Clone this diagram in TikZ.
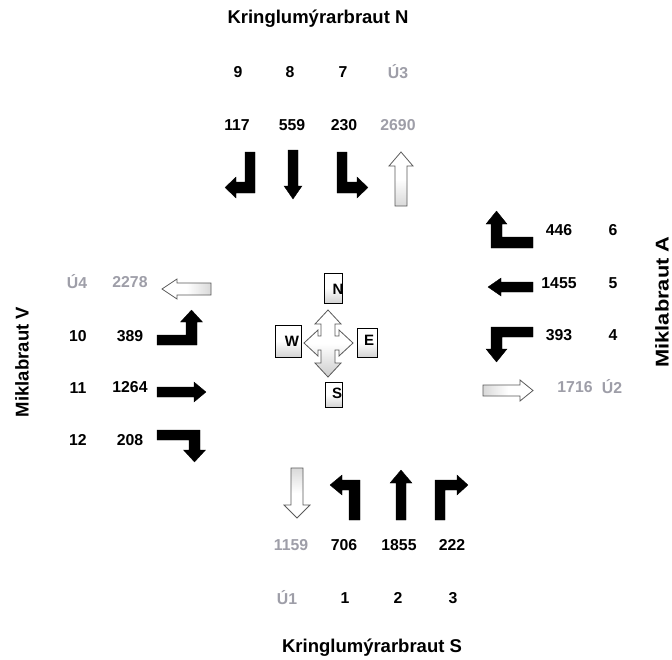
\documentclass[tikz,border=0pt]{standalone}
\usepackage{fontspec}
\setmainfont{Liberation Sans}
\definecolor{greytxt}{RGB}{158,158,168}
\definecolor{outl}{RGB}{90,90,90}
\tikzset{
  num/.style={font=\fontsize{15.8}{18}\bfseries\selectfont, inner sep=0pt},
  gnum/.style={num, text=greytxt},
  ttl/.style={font=\fontsize{18.5}{22}\bfseries\selectfont, inner sep=0pt},
  blk/.style={fill=black, draw=black, line width=0.3pt},
  hol/.style={draw=outl, line width=0.8pt},
  cbox/.style={draw=black, line width=0.7pt, top color=white, bottom color=gray!35, middle color=white},
  clet/.style={font=\fontsize{15}{18}\bfseries\selectfont, inner sep=0pt}
}
\begin{document}
\begin{tikzpicture}[x=1pt,y=-1pt]
\useasboundingbox (0,0) rectangle (672,659);
\fill[white] (0,0) rectangle (672,659);

% titles
\node[ttl] (tN) at (318,19) {Kringlumýrarbraut N};
\node[ttl] (tS) at (372,648) {Kringlumýrarbraut S};
\node[ttl, rotate=90] (tV) at (22,362) {Miklabraut V};
\node[ttl, rotate=90] (tA) at (662,302) {\scalebox{1.18}[1]{Miklabraut A}};

% top labels
\node[num] (n9) at (238,72) {9};
\node[num] (n8) at (290,72) {8};
\node[num] (n7) at (343,72) {7};
\node[gnum] (u3) at (398,72) {Ú3};
\node[num] (v117) at (237,125) {117};
\node[num] (v559) at (292,125) {559};
\node[num] (v230) at (344,125) {230};
\node[gnum] (v2690) at (398,125) {2690};

% top arrows
\filldraw[blk] (245,152) -- (255,152) -- (255,193) -- (236,193) -- (236,198) -- (225,187.5) -- (236,177) -- (236,182) -- (245,182) -- cycle;
\filldraw[blk] (288,150) -- (298,150) -- (298,186) -- (302,186) -- (293,199) -- (284,186) -- (288,186) -- cycle;
\filldraw[blk] (337,152) -- (347,152) -- (347,182) -- (357,182) -- (357,177) -- (368,187.5) -- (357,198) -- (357,193) -- (337,193) -- cycle;
\shade[hol, top color=white, bottom color=gray!30, middle color=white] (401,152) -- (413,166) -- (407,166) -- (407,206) -- (395,206) -- (395,166) -- (389,166) -- cycle;

% right labels
\node[num] (v446) at (559,230) {446};
\node[num] (n6) at (613,230) {6};
\node[num] (v1455) at (559,283) {1455};
\node[num] (n5) at (613,283) {5};
\node[num] (v393) at (559,335) {393};
\node[num] (n4) at (613,335) {4};
\node[gnum] (v1716) at (575,387) {1716};
\node[gnum] (u2) at (612,387) {Ú2};

% right arrows
\filldraw[blk] (533,237) -- (533,248) -- (491,248) -- (491,224) -- (486,224) -- (496.5,211) -- (507,224) -- (502,224) -- (502,237) -- cycle;
\filldraw[blk] (533,282) -- (533,292) -- (501,292) -- (501,296) -- (488,287) -- (501,278) -- (501,282) -- cycle;
\filldraw[blk] (533,327) -- (533,337) -- (502,337) -- (502,349) -- (507,349) -- (496.5,362) -- (486,349) -- (491,349) -- (491,327) -- cycle;
\shade[hol, left color=gray!30, right color=white, middle color=white] (483,385) -- (520,385) -- (520,380) -- (533,390.5) -- (520,401) -- (520,396) -- (483,396) -- cycle;

% left labels
\node[gnum] (u4) at (77,282) {Ú4};
\node[gnum] (v2278) at (130,282) {2278};
\node[num] (n10) at (78,336) {10};
\node[num] (v389) at (130,336) {389};
\node[num] (n11) at (78,388) {11};
\node[num] (v1264) at (130,387) {1264};
\node[num] (n12) at (78,440) {12};
\node[num] (v208) at (130,440) {208};

% left arrows
\shade[hol, left color=white, right color=gray!30, middle color=white] (211,283) -- (177,283) -- (177,279) -- (162,289) -- (177,299) -- (177,295) -- (211,295) -- cycle;
\filldraw[blk] (157,335) -- (186,335) -- (186,322) -- (180.5,322) -- (191.5,310) -- (202.5,322) -- (197,322) -- (197,345) -- (157,345) -- cycle;
\filldraw[blk] (157,387) -- (194,387) -- (194,382) -- (206,392) -- (194,402) -- (194,397) -- (157,397) -- cycle;
\filldraw[blk] (157,430) -- (200,430) -- (200,450) -- (205.5,450) -- (194.5,462) -- (183.5,450) -- (189,450) -- (189,440) -- (157,440) -- cycle;

% bottom labels
\node[gnum] (v1159) at (291,545) {1159};
\node[num] (v706) at (344,545) {706};
\node[num] (v1855) at (399,545) {1855};
\node[num] (v222) at (452,545) {222};
\node[gnum] (u1) at (287,598) {Ú1};
\node[num] (n1) at (345,598) {1};
\node[num] (n2) at (398,598) {2};
\node[num] (n3) at (453,598) {3};

% bottom arrows
\shade[hol, top color=gray!30, bottom color=white, middle color=white] (291,468) -- (303,468) -- (303,505) -- (310,505) -- (297,518) -- (284,505) -- (291,505) -- cycle;
\filldraw[blk] (360,520) -- (349,520) -- (349,490) -- (342,490) -- (342,495) -- (330,485) -- (342,475) -- (342,480) -- (360,480) -- cycle;
\filldraw[blk] (396,520) -- (406,520) -- (406,483) -- (412,483) -- (401,470) -- (390,483) -- (396,483) -- cycle;
\filldraw[blk] (435,520) -- (445,520) -- (445,490) -- (457,490) -- (457,495) -- (468,485) -- (457,475) -- (457,480) -- (435,480) -- cycle;

% compass
\shade[draw=gray!70!black, line width=0.8pt, top color=white, bottom color=gray!40, middle color=white]
  (328,310) -- (341,324) -- (335,324) -- (335,336) -- (339,336) -- (339,330) -- (353,343) -- (339,356) -- (339,350) -- (335,350) -- (335,363) -- (341,363) -- (328,377) -- (315,363) -- (321,363) -- (321,350) -- (318,350) -- (318,356) -- (304,343) -- (318,330) -- (318,336) -- (321,336) -- (321,324) -- (315,324) -- cycle;
\shade[cbox] (324,273) rectangle (342,303);
\shade[cbox] (275,325) rectangle (301,357);
\shade[cbox] (357,328) rectangle (377,357);
\shade[cbox] (325,382) rectangle (342,407);
\node[clet] (cN) at (338,289) {N};
\node[clet] (cW) at (292,341) {W};
\node[clet] (cE) at (369,340) {E};
\node[clet] (cS) at (337,393) {S};
\end{tikzpicture}
\end{document}
